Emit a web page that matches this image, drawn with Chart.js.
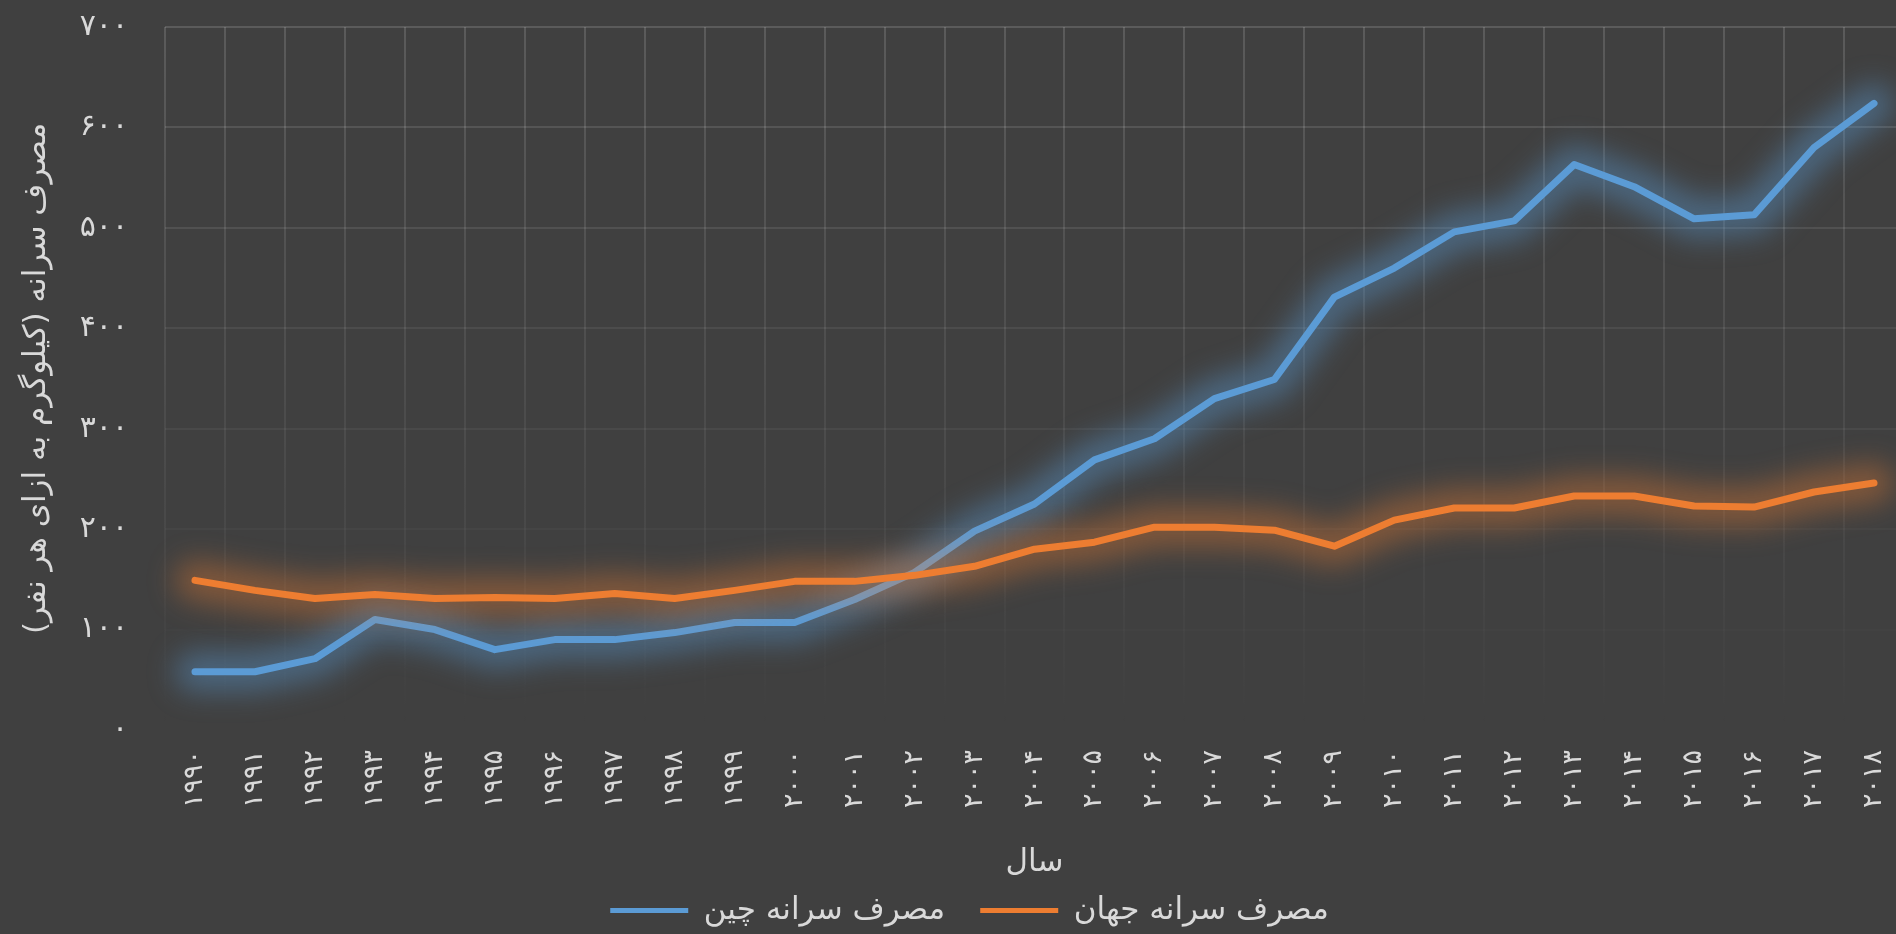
<!DOCTYPE html>
<html lang="fa">
<head>
<meta charset="utf-8">
<script src="https://cdn.jsdelivr.net/npm/chart.js@4.4.1/dist/chart.umd.min.js"></script>
<style>
  html, body { margin: 0; padding: 0; background: #404040; overflow: hidden; width: 1896px; height: 934px; }
  #wrap { position: absolute; left: 0; top: 0; width: 1934px; height: 934px; }
  canvas { direction: rtl; }
</style>
</head>
<body>
<div id="wrap"><canvas id="c" width="1934" height="934"></canvas></div>
<script>
// ---- data ----
const years = ['۱۹۹۰','۱۹۹۱','۱۹۹۲','۱۹۹۳','۱۹۹۴','۱۹۹۵','۱۹۹۶','۱۹۹۷','۱۹۹۸','۱۹۹۹',
               '۲۰۰۰','۲۰۰۱','۲۰۰۲','۲۰۰۳','۲۰۰۴','۲۰۰۵','۲۰۰۶','۲۰۰۷','۲۰۰۸','۲۰۰۹',
               '۲۰۱۰','۲۰۱۱','۲۰۱۲','۲۰۱۳','۲۰۱۴','۲۰۱۵','۲۰۱۶','۲۰۱۷','۲۰۱۸'];
const chinaPerCapita = [58, 58, 71, 110, 100, 80, 90, 90, 97, 107, 107, 130, 157, 198, 225, 269, 290, 330, 349, 431, 460, 496, 507, 563, 541, 509, 513, 580, 624];
const worldPerCapita = [149, 139, 131, 135, 131, 132, 131, 136, 131, 139, 148, 148, 154, 163, 180, 187, 202, 202, 199, 183, 209, 221, 221, 233, 233, 223, 222, 237, 246];
const yTickLabels = ['۰','۱۰۰','۲۰۰','۳۰۰','۴۰۰','۵۰۰','۶۰۰','۷۰۰'];
const seriesNames = ['مصرف سرانه چین', 'مصرف سرانه جهان'];
const yAxisTitle = 'مصرف سرانه (کیلوگرم به ازای هر نفر)';
const xAxisTitle = 'سال';

const FONT = "'DejaVu Sans', 'Noto Sans', sans-serif";
const TEXT = '#d9d9d9';
const BLUE = '#5b9bd5';
const ORANGE = '#ed7d31';
const GRID_A = 0.14;
const LEGEND_PAD = 35;

// soft glow drawn under each line, following the library's own point positions
const glowPlugin = {
  id: 'glow',
  beforeDatasetDraw(chart, args) {
    const ds = chart.data.datasets[args.index];
    const pts = args.meta.data;
    if (!pts || !pts.length) return;
    const ctx = chart.ctx;
    ctx.save();
    ctx.filter = 'blur(14px)';
    ctx.strokeStyle = ds.glowColor;
    ctx.lineWidth = 40;
    ctx.lineJoin = 'round';
    ctx.lineCap = 'round';
    ctx.beginPath();
    pts.forEach((p, i) => { if (i === 0) ctx.moveTo(p.x, p.y); else ctx.lineTo(p.x, p.y); });
    ctx.stroke();
    ctx.restore();
  }
};

// centre the legend row on the same axis as the reference
const legendShift = {
  id: 'legendShift',
  afterLayout(chart) {
    const lg = chart.legend;
    if (!lg) return;
    lg.left += LEGEND_PAD / 2; lg.right += LEGEND_PAD / 2;
    lg.top += 2; lg.bottom += 2;
  }
};

function vGridColor(c) {
  const chart = c.chart;
  const a = chart.chartArea;
  if (!a) return 'rgba(255,255,255,' + GRID_A + ')';
  const g = chart.ctx.createLinearGradient(0, a.top, 0, a.bottom);
  g.addColorStop(0, 'rgba(255,255,255,' + GRID_A + ')');
  g.addColorStop(0.7, 'rgba(255,255,255,' + (GRID_A * 0.35) + ')');
  g.addColorStop(1, 'rgba(255,255,255,0)');
  return g;
}
function hGridColor(c) {
  const v = c.tick ? c.tick.value : 0;
  const f = Math.pow(v / 700, 1.3);
  return 'rgba(255,255,255,' + (GRID_A * f).toFixed(3) + ')';
}

new Chart(document.getElementById('c'), {
  type: 'line',
  data: {
    labels: years,
    datasets: [
      { label: seriesNames[0], data: chinaPerCapita, borderColor: BLUE, backgroundColor: BLUE,
        glowColor: 'rgba(91,155,213,0.42)', borderWidth: 7, pointRadius: 0, tension: 0,
        borderCapStyle: 'round', borderJoinStyle: 'round', order: 1 },
      { label: seriesNames[1], data: worldPerCapita, borderColor: ORANGE, backgroundColor: ORANGE,
        glowColor: 'rgba(237,125,49,0.38)', borderWidth: 7, pointRadius: 0, tension: 0,
        borderCapStyle: 'round', borderJoinStyle: 'round', order: 0 }
    ]
  },
  options: {
    responsive: false,
    animation: false,
    devicePixelRatio: 1,
    layout: { padding: { left: 0, top: 27, right: 30, bottom: 0 } },
    plugins: {
      tooltip: { enabled: false },
      legend: {
        position: 'bottom',
        labels: {
          color: TEXT,
          font: { family: FONT, size: 31 },
          boxWidth: 78,
          boxHeight: 5,
          padding: LEGEND_PAD,
          sort: (a, b) => a.datasetIndex - b.datasetIndex,
          generateLabels(chart) {
            const items = Chart.defaults.plugins.legend.labels.generateLabels(chart);
            items.forEach(it => { it.lineWidth = 0; });
            return items;
          }
        }
      }
    },
    scales: {
      x: {
        type: 'category',
        offset: true,
        grid: { offset: true, color: vGridColor, lineWidth: 2, drawTicks: false },
        border: { display: false },
        ticks: {
          color: TEXT, font: { family: FONT, size: 27 },
          minRotation: 90, maxRotation: 90, autoSkip: false, padding: 20
        },
        title: {
          display: true, text: xAxisTitle, color: TEXT,
          font: { family: FONT, size: 31 },
          padding: { top: 0, bottom: 11 - LEGEND_PAD }
        },
        afterFit(scale) { scale.height = 163 - LEGEND_PAD; scale.paddingLeft = 0; scale.paddingRight = 0; }
      },
      y: {
        min: 0, max: 700,
        grid: { color: hGridColor, lineWidth: 2, drawTicks: false },
        border: { display: false },
        ticks: {
          stepSize: 100, color: TEXT, font: { family: FONT, size: 30 }, padding: 37,
          callback: (v, i) => yTickLabels[i]
        },
        title: {
          display: true, text: yAxisTitle, color: TEXT,
          font: { family: FONT, size: 31 },
          padding: { top: 18, bottom: 0 }
        },
        afterFit(scale) { scale.width = 165; scale.paddingTop = 0; scale.paddingBottom = 0; }
      }
    }
  },
  plugins: [glowPlugin, legendShift]
});
</script>
</body>
</html>
